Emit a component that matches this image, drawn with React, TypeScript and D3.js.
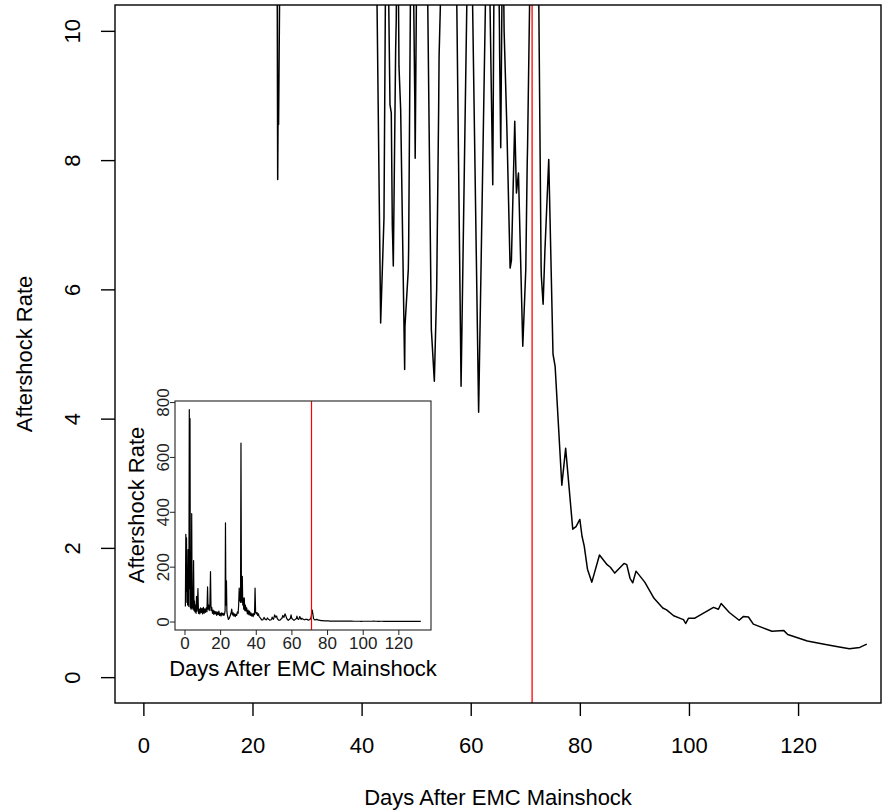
import React, { useEffect, useRef } from 'react';
import * as d3 from 'd3';

// days after the EMC mainshock and the aftershock rate
const days = [
  0.5, 0.75, 0.95, 1.15, 1.35, 1.55, 1.75, 2.0, 2.2, 2.45, 2.7, 2.95, 3.1, 3.3, 3.5, 3.75, 4.05, 4.3, 4.55, 4.8,
  5.1, 5.35, 5.6, 5.9, 6.2, 6.5, 6.75, 7.0, 7.25, 7.55, 7.85, 8.2, 8.6, 9.0, 9.4, 9.8, 10.2, 10.6, 11.0, 11.4,
  11.8, 12.2, 12.6, 12.95, 13.25, 13.6, 13.9, 14.25, 14.6, 14.9, 15.3, 15.7, 16.1, 16.5, 16.9, 17.3, 17.7, 18.1, 18.5, 18.9,
  19.3, 19.7, 20.1, 20.5, 20.9, 21.3, 21.7, 22.1, 22.5, 22.8, 23.0, 23.25, 23.55, 23.8, 24.1, 24.5, 24.62, 24.7, 24.78, 25.3,
  25.7, 26.1, 26.5, 26.9, 27.3, 27.7, 28.1, 28.5, 28.9, 29.3, 29.7, 30.1, 30.4, 30.7, 30.95, 31.2, 31.45, 31.7, 31.95, 32.2,
  32.45, 32.7, 32.95, 33.25, 33.55, 33.85, 34.2, 34.55, 34.9, 35.3, 35.7, 36.1, 36.5, 36.9, 37.3, 37.7, 38.1, 38.5, 38.9, 39.3,
  39.6, 39.9, 40.3, 40.7, 41.1, 41.5, 41.9, 42.3, 42.75, 43.49, 44.1, 44.4, 44.65, 44.89, 45.2, 45.44, 45.63, 45.7, 45.81, 46.24,
  46.35, 46.55, 46.85, 47.16, 47.89, 47.95, 48.56, 48.62, 48.99, 49.2, 49.48, 49.72, 49.75, 49.82, 50.09, 50.6, 51.2, 51.7, 52.05, 52.78,
  52.84, 53.33, 53.76, 54.12, 54.2, 54.62, 55.2, 55.8, 56.4, 57.0, 57.37, 58.23, 59.39, 59.8, 60.24, 61.45, 62.81, 63.1, 63.43, 64.04,
  64.28, 64.7, 65.14, 65.26, 65.3, 65.5, 65.87, 66.12, 66.55, 66.62, 67.22, 67.46, 68.07, 68.38, 68.75, 69.54, 70.09, 70.35, 70.42, 70.89,
  71.7, 72.42, 72.9, 72.95, 73.27, 73.6, 73.65, 74.3, 75.08, 75.47, 76.7, 77.4, 78.7, 79.3, 80.0, 80.4, 80.8, 81.4, 82.2, 83.6,
  85.0, 85.6, 86.4, 88.1, 88.6, 89.2, 89.7, 90.3, 91.9, 93.6, 95.2, 95.9, 97.2, 98.4, 99.0, 99.4, 99.9, 101.0, 104.5, 105.4,
  105.9, 107.4, 109.2, 110.0, 110.9, 111.8, 115.2, 117.4, 118.1, 121.7, 124.8, 127.3, 129.4, 131.3, 132.6,
];
const rate = [
  55, 318, 110, 305, 70, 150, 60, 262, 75, 55, 773, 120, 740, 50, 90, 45, 393, 50, 120, 45,
  222, 40, 75, 35, 60, 30, 92, 38, 55, 120, 30, 45, 28, 50, 32, 48, 28, 52, 30, 46,
  33, 50, 36, 126, 45, 60, 40, 60, 182, 40, 52, 30, 42, 26, 38, 28, 36, 22, 34, 25,
  38, 22, 30, 20, 32, 24, 30, 22, 28, 40, 360, 60, 148, 35, 22, 12, 7.7, 8.95, 8.55, 14,
  22, 30, 45, 24, 32, 20, 28, 18, 26, 22, 35, 30, 60, 122, 75, 90, 70, 650, 95, 70,
  165, 60, 85, 45, 86, 40, 60, 38, 50, 28, 42, 25, 38, 22, 32, 20, 28, 18, 30, 25,
  122, 35, 28, 33, 22, 28, 18, 15, 11, 5.48, 7.1, 11, 15, 11, 8.86, 8.73, 6.98, 6.77, 6.36, 9.71,
  10.17, 13, 9.45, 8.78, 4.76, 5.43, 6.31, 6.62, 11, 16, 11, 9.14, 8.96, 8.03, 11, 24, 16, 20, 11, 5.38,
  5.3, 4.58, 6.0, 8.78, 9.6, 11, 22, 15, 28, 18, 11, 4.5, 11, 24, 11, 4.1, 11, 20, 11, 7.62,
  11, 18, 11, 10.07, 9.63, 8.19, 12, 10.0, 8.73, 8.52, 6.33, 6.45, 8.6, 7.49, 7.8, 5.12, 6.3, 7.93, 8.21, 11,
  42, 11, 6.35, 6.2, 5.77, 6.6, 6.7, 8.01, 5.0, 4.81, 2.97, 3.54, 2.29, 2.33, 2.44, 2.18, 2.03, 1.67, 1.47, 1.89,
  1.74, 1.7, 1.61, 1.76, 1.74, 1.53, 1.46, 1.64, 1.47, 1.22, 1.07, 1.04, 0.95, 0.91, 0.89, 0.83, 0.91, 0.91, 1.08, 1.05,
  1.14, 1.0, 0.88, 0.94, 0.93, 0.82, 0.71, 0.72, 0.66, 0.56, 0.51, 0.47, 0.44, 0.46, 0.51,
];

const changeDay = 71.25;
const mainXTicks = [0, 20, 40, 60, 80, 100, 120];
const mainYTicks = [0, 2, 4, 6, 8, 10];
const insetXTicks = [0, 20, 40, 60, 80, 100, 120];
const insetYTicks = [0, 200, 400, 600, 800];

const xLabel = 'Days After EMC Mainshock';
const yLabel = 'Aftershock Rate';

const font = '"Liberation Sans", Arial, Helvetica, sans-serif';

const App = () => {
  const ref = useRef<SVGSVGElement>(null);

  useEffect(() => {
    const svg = d3.select(ref.current);
    svg.selectAll('*').remove();
    svg.style('font-family', font);

    const data = days.map((d, i) => ({ d, r: rate[i] }));

    /* Main plot */

    const m = { left: 115, right: 881, top: 5, bottom: 703 };
    const x = d3.scaleLinear().domain([-5.2, 135.2]).range([m.left, m.right]);
    const y = d3.scaleLinear().domain([-0.4, 10.4]).range([m.bottom, m.top]);

    svg.append('defs')
      .append('clipPath')
        .attr('id', 'main-clip')
        .append('rect')
          .attr('x', m.left)
          .attr('y', m.top)
          .attr('width', m.right - m.left)
          .attr('height', m.bottom - m.top);

    const line = d3.line<{ d: number; r: number }>()
      .x(p => x(p.d))
      .y(p => y(p.r));

    svg.append('line')
      .attr('x1', x(changeDay)).attr('x2', x(changeDay))
      .attr('y1', m.top).attr('y2', m.bottom)
      .attr('stroke', '#ff0000')
      .attr('stroke-width', 1.3);

    svg.append('path')
      .datum(data)
      .attr('clip-path', 'url(#main-clip)')
      .attr('d', line)
      .attr('fill', 'none')
      .attr('stroke', '#000')
      .attr('stroke-width', 1.5)
      .attr('stroke-linejoin', 'round');

    svg.append('rect')
      .attr('x', m.left).attr('y', m.top)
      .attr('width', m.right - m.left).attr('height', m.bottom - m.top)
      .attr('fill', 'none')
      .attr('stroke', '#000')
      .attr('stroke-width', 1.4);

    const xAxis = svg.append('g')
      .attr('transform', `translate(0, ${m.bottom})`)
      .call(d3.axisBottom(x).tickValues(mainXTicks).tickSize(13).tickSizeOuter(0));
    xAxis.select('.domain').remove();
    xAxis.selectAll('line').attr('stroke-width', 1.4);
    xAxis.selectAll('text')
      .attr('y', 50).attr('dy', 0)
      .style('font-size', '22px')
      .style('font-family', font);

    const yAxis = svg.append('g')
      .attr('transform', `translate(${m.left}, 0)`)
      .call(d3.axisLeft(y).tickValues(mainYTicks).tickSize(14).tickSizeOuter(0));
    yAxis.select('.domain').remove();
    yAxis.selectAll('line').attr('stroke-width', 1.4);
    yAxis.selectAll('text')
      .attr('transform', 'rotate(-90)')
      .attr('x', 0).attr('y', -35).attr('dy', 0)
      .attr('text-anchor', 'middle')
      .style('font-size', '22px')
      .style('font-family', font);

    svg.append('text')
      .attr('x', (m.left + m.right) / 2)
      .attr('y', 805)
      .attr('text-anchor', 'middle')
      .style('font-size', '22px')
      .text(xLabel);

    svg.append('text')
      .attr('transform', `translate(31.5, ${(m.top + m.bottom) / 2}) rotate(-90)`)
      .attr('text-anchor', 'middle')
      .style('font-size', '22px')
      .text(yLabel);

    /* Inset with the full range */

    const n = { left: 175, right: 431, top: 401, bottom: 630 };
    const ix = d3.scaleLinear().domain([-5.32, 138.32]).range([n.left, n.right]);
    const iy = d3.scaleLinear().domain([-30.9, 803.9]).range([n.bottom, n.top]);

    const insetLine = d3.line<{ d: number; r: number }>()
      .x(p => ix(p.d))
      .y(p => iy(p.r));

    svg.append('path')
      .datum(data)
      .attr('d', insetLine)
      .attr('fill', 'none')
      .attr('stroke', '#000')
      .attr('stroke-width', 1.2)
      .attr('stroke-linejoin', 'round');

    const redX = Math.round(ix(changeDay)) + 0.5;
    svg.append('line')
      .attr('x1', redX).attr('x2', redX)
      .attr('y1', n.top).attr('y2', n.bottom)
      .attr('stroke', '#ff0000')
      .attr('stroke-width', 1.2);

    svg.append('rect')
      .attr('x', n.left).attr('y', n.top)
      .attr('width', n.right - n.left).attr('height', n.bottom - n.top)
      .attr('fill', 'none')
      .attr('stroke', '#222')
      .attr('stroke-width', 1.1);

    const ixAxis = svg.append('g')
      .attr('transform', `translate(0, ${n.bottom})`)
      .call(d3.axisBottom(ix).tickValues(insetXTicks).tickSize(5).tickSizeOuter(0));
    ixAxis.select('.domain').remove();
    ixAxis.selectAll('line').attr('stroke', '#222');
    ixAxis.selectAll('text')
      .attr('y', 18.5).attr('dy', 0)
      .style('font-size', '17px')
      .style('font-family', font)
      .attr('fill', '#222');

    const iyAxis = svg.append('g')
      .attr('transform', `translate(${n.left}, 0)`)
      .call(d3.axisLeft(iy).tickValues(insetYTicks).tickSize(5).tickSizeOuter(0));
    iyAxis.select('.domain').remove();
    iyAxis.selectAll('line').attr('stroke', '#222');
    iyAxis.selectAll('text')
      .attr('transform', 'rotate(-90)')
      .attr('x', 0).attr('y', -6.5).attr('dy', 0)
      .attr('text-anchor', 'middle')
      .style('font-size', '17px')
      .style('font-family', font)
      .attr('fill', '#222');

    svg.append('text')
      .attr('x', (n.left + n.right) / 2)
      .attr('y', 676)
      .attr('text-anchor', 'middle')
      .style('font-size', '22px')
      .text(xLabel);

    svg.append('text')
      .attr('transform', `translate(143.5, 505) rotate(-90)`)
      .attr('text-anchor', 'middle')
      .style('font-size', '22px')
      .text(yLabel);
  }, []);

  return (
    <div style={{ position: 'absolute', left: 0, top: 0 }}>
      <svg ref={ref} width={883} height={811} style={{ display: 'block', background: '#fff' }} />
    </div>
  );
};

export default App;
